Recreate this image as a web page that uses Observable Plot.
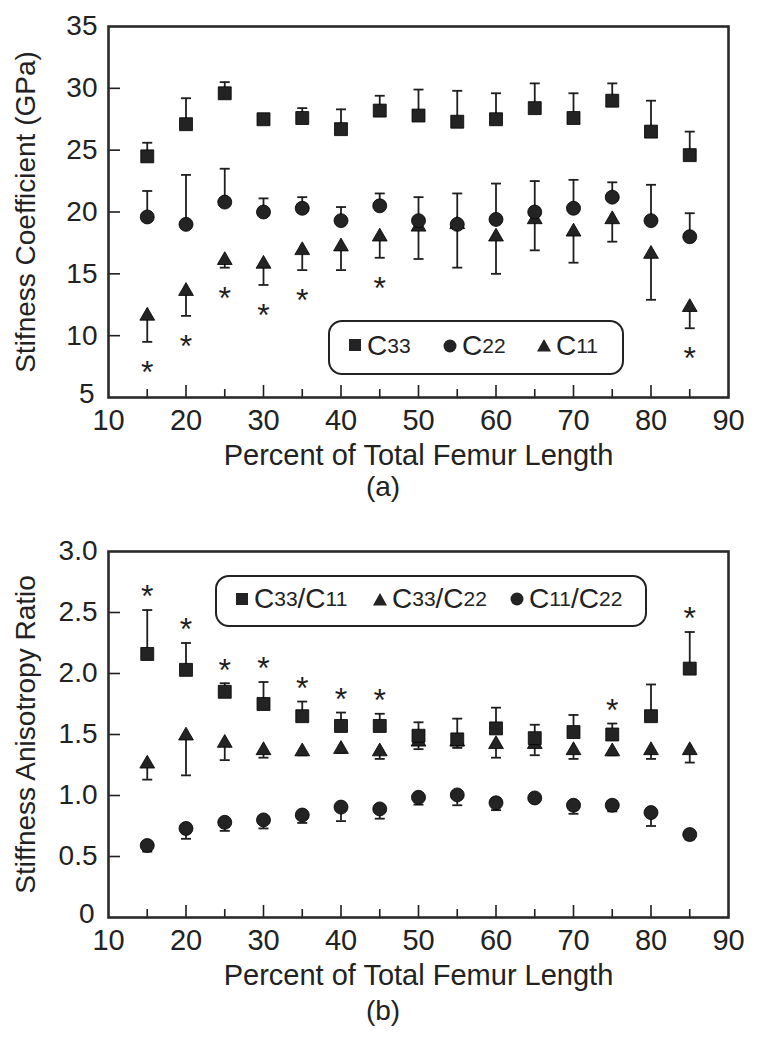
<!DOCTYPE html>
<html>
<head>
<meta charset="utf-8">
<script src="https://cdn.jsdelivr.net/npm/d3@7"></script>
<script src="https://cdn.jsdelivr.net/npm/@observablehq/plot@0.6"></script>
<style>
  body { margin: 0; background: #fff; font-family: "Liberation Sans", Arial, sans-serif; color: #222; }
  #wrap { position: relative; width: 758px; height: 1050px; overflow: hidden; }
  .chart { position: absolute; left: 0; }
  .panel { position: absolute; font-size: 28px; line-height: 28px; text-align: center; width: 60px; }
  .legend { position: absolute; box-sizing: border-box; border: 2px solid #222; border-radius: 14px; background: #fff; }
  .item { position: absolute; display: flex; align-items: center; font-size: 28px; line-height: 28px; white-space: nowrap; }
  .item svg { margin-right: 5px; }
  .item sub { font-size: 21px; vertical-align: -7px; line-height: 0; }
</style>
</head>
<body>
<div id="wrap"></div>
<script>
// ---------- data ----------
const pct = [15, 20, 25, 30, 35, 40, 45, 50, 55, 60, 65, 70, 75, 80, 85];

// (a) stiffness coefficients, GPa (mean and error-bar end)
const c33    = [24.5, 27.1, 29.6, 27.5, 27.6, 26.7, 28.2, 27.8, 27.3, 27.5, 28.4, 27.6, 29.0, 26.5, 24.6];
const c33Err = [25.6, 29.2, 30.5, 27.9, 28.4, 28.3, 29.4, 29.9, 29.8, 29.6, 30.4, 29.6, 30.4, 29.0, 26.5];
const c22    = [19.6, 19.0, 20.8, 20.0, 20.3, 19.3, 20.5, 19.3, 19.0, 19.4, 20.0, 20.3, 21.2, 19.3, 18.0];
const c22Err = [21.7, 23.0, 23.5, 21.1, 21.2, 20.4, 21.5, 21.2, 21.5, 22.3, 22.5, 22.6, 22.4, 22.2, 19.9];
const c11    = [11.6, 13.6, 16.1, 15.8, 16.9, 17.2, 18.0, 18.8, 19.0, 18.0, 19.4, 18.4, 19.4, 16.6, 12.3];
const c11Err = [9.5, 11.6, 15.5, 14.1, 15.3, 15.3, 16.3, 16.2, 15.5, 15.0, 16.9, 15.9, 17.6, 12.9, 10.6];
const sigA = [15, 20, 25, 30, 35, 45, 85];

// (b) anisotropy ratios (mean and error-bar end)
const r3311    = [2.16, 2.03, 1.85, 1.75, 1.65, 1.57, 1.57, 1.49, 1.46, 1.55, 1.47, 1.52, 1.50, 1.65, 2.04];
const r3311Err = [2.52, 2.25, 1.92, 1.93, 1.77, 1.68, 1.67, 1.60, 1.63, 1.72, 1.58, 1.66, 1.59, 1.91, 2.34];
const r3322    = [1.26, 1.49, 1.43, 1.37, 1.36, 1.38, 1.36, 1.44, 1.44, 1.42, 1.42, 1.37, 1.36, 1.37, 1.37];
const r3322Err = [1.13, 1.165, 1.29, 1.31, 1.33, 1.35, 1.30, 1.38, 1.39, 1.31, 1.33, 1.30, 1.33, 1.30, 1.27];
const r1122    = [0.59, 0.73, 0.78, 0.80, 0.84, 0.905, 0.89, 0.985, 1.005, 0.94, 0.98, 0.92, 0.92, 0.86, 0.68];
const r1122Err = [0.54, 0.645, 0.71, 0.73, 0.775, 0.79, 0.81, 0.925, 0.92, 0.88, 0.95, 0.85, 0.87, 0.75, 0.64];
const sigB = [15, 20, 25, 30, 35, 40, 45, 75, 85];

const xMajor = [10, 20, 30, 40, 50, 60, 70, 80, 90];
const xInnerMajor = [20, 30, 40, 50, 60, 70, 80];
const xMinor = [15, 25, 35, 45, 55, 65, 75, 85];
const yTicksA = [10, 15, 20, 25, 30, 35];
const yBottomA = [5];
const yInnerA = [10, 15, 20, 25, 30];
const yTicksB = [0.5, 1.0, 1.5, 2.0, 2.5, 3.0];
const yBottomB = [0];
const yInnerB = [0.5, 1.0, 1.5, 2.0, 2.5];

// ---------- helpers ----------
const INK = "#1e1e1e";
const W = 758, ML = 108, MR = 30;
const table = (v, e) => pct.map((p, i) => ({pct: p, val: v[i], err: e[i]}));
const capSymbol = {draw(ctx) { ctx.moveTo(-5, 0); ctx.lineTo(5, 0); }};

function series(rows, symbol, r) {
  return [
    Plot.ruleX(rows, {x: "pct", y1: "val", y2: "err", stroke: INK, strokeWidth: 1.8}),
    Plot.dot(rows, {x: "pct", y: "err", symbol: capSymbol, r: 5, stroke: INK, strokeWidth: 1.8, fill: "none"}),
    Plot.dot(rows, {x: "pct", y: "val", symbol, r, fill: "#232323", stroke: "#000", strokeWidth: 0.8})
  ];
}

function makeChart({height, marginTop, marginBottom, yDomain, yTicks, yBottom, yInner, yFormat, yLabel, groups, sigRows, sigDy}) {
  const innerH = height - marginTop - marginBottom;
  const innerW = W - ML - MR;
  return Plot.plot({
    width: W, height, marginTop, marginBottom, marginLeft: ML, marginRight: MR,
    style: {fontFamily: '"Liberation Sans", Arial, sans-serif', fontSize: "28px", color: "#222", background: "transparent"},
    x: {domain: [10, 90]},
    y: {domain: yDomain},
    marks: [
      // inward tick marks
      Plot.tickX(xInnerMajor, {x: d => d, insetTop: innerH - 12, stroke: INK, strokeWidth: 1.6}),
      Plot.tickX(xMinor, {x: d => d, insetTop: innerH - 8, stroke: INK, strokeWidth: 1.6}),
      Plot.tickY(yInner, {y: d => d, insetRight: innerW - 12, stroke: INK, strokeWidth: 1.6}),
      // tick labels + axis titles
      Plot.axisX({ticks: xMajor, tickSize: 0, tickPadding: 12, label: "Percent of Total Femur Length",
                  labelAnchor: "center", labelArrow: "none", labelOffset: 67, fontSize: 29, fill: "#222"}),
      Plot.axisY({ticks: yTicks, tickSize: 0, tickPadding: 11, tickFormat: yFormat, label: yLabel,
                  labelAnchor: "center", labelArrow: "none", labelOffset: 93, fill: "#222"}),
      Plot.axisY({ticks: yBottom, tickSize: 0, tickPadding: 14, tickFormat: yFormat, label: null, dy: -3, fill: "#222"}),
      ...groups.flat(),
      Plot.text(sigRows, {x: "pct", y: "err", text: () => "*", dy: sigDy, fontSize: 32, fill: INK}),
      Plot.frame({stroke: "#2a2a2a", strokeWidth: 2.6})
    ]
  });
}

const wrap = document.getElementById("wrap");

// ---------- chart (a) ----------
const rowsC33 = table(c33, c33Err), rowsC22 = table(c22, c22Err), rowsC11 = table(c11, c11Err);
const chartA = makeChart({
  height: 500, marginTop: 26, marginBottom: 103,
  yDomain: [5, 35], yTicks: yTicksA, yBottom: yBottomA, yInner: yInnerA, yFormat: d => String(d),
  yLabel: "Stifness Coefficient (GPa)",
  groups: [series(rowsC11, "triangle", 5.5), series(rowsC22, "circle", 7), series(rowsC33, "square", 7.3)],
  sigRows: rowsC11.filter(d => sigA.includes(d.pct)), sigDy: 31
});
chartA.classList.add("chart");
chartA.style.top = "0px";
wrap.appendChild(chartA);

// ---------- chart (b) ----------
const rowsR3311 = table(r3311, r3311Err), rowsR3322 = table(r3322, r3322Err), rowsR1122 = table(r1122, r1122Err);
const chartB = makeChart({
  height: 520, marginTop: 31, marginBottom: 123,
  yDomain: [0, 3], yTicks: yTicksB, yBottom: yBottomB, yInner: yInnerB,
  yFormat: d => d === 0 ? "0" : d.toFixed(1),
  yLabel: "Stiffness Anisotropy Ratio",
  groups: [series(rowsR1122, "circle", 7), series(rowsR3322, "triangle", 5.5), series(rowsR3311, "square", 7.3)],
  sigRows: rowsR3311.filter(d => sigB.includes(d.pct)), sigDy: -13
});
chartB.classList.add("chart");
chartB.style.top = "520px";
wrap.appendChild(chartB);

// ---------- panel letters ----------
function panel(text, top) {
  const d = document.createElement("div");
  d.className = "panel"; d.textContent = text;
  d.style.left = (383 - 30) + "px"; d.style.top = top + "px";
  wrap.appendChild(d);
}
panel("(a)", 473);
panel("(b)", 997);

// ---------- legends ----------
const sym = {
  square: '<svg width="13" height="13"><rect x="0" y="0" width="12" height="12" fill="#232323"/></svg>',
  circle: '<svg width="14" height="14"><circle cx="7" cy="7" r="6.5" fill="#232323"/></svg>',
  triangle: '<svg width="14" height="13"><path d="M7,0 L14,12.5 L0,12.5 Z" fill="#232323"/></svg>'
};
function legend(left, top, w, h, items) {
  const box = document.createElement("div");
  box.className = "legend";
  Object.assign(box.style, {left: left + "px", top: top + "px", width: w + "px", height: h + "px"});
  for (const it of items) {
    const s = document.createElement("div");
    s.className = "item";
    s.style.left = it.x + "px";
    s.style.top = (h / 2 - 18) + "px";
    s.innerHTML = sym[it.sym] + it.html;
    box.appendChild(s);
  }
  wrap.appendChild(box);
}
legend(328, 320, 296, 55, [
  {sym: "square", x: 19, html: "C<sub>33</sub>"},
  {sym: "circle", x: 113, html: "C<sub>22</sub>"},
  {sym: "triangle", x: 207, html: "C<sub>11</sub>"}
]);
legend(215, 575, 432, 52, [
  {sym: "square", x: 19, html: "C<sub>33</sub>/C<sub>11</sub>"},
  {sym: "triangle", x: 156, html: "C<sub>33</sub>/C<sub>22</sub>"},
  {sym: "circle", x: 293, html: "C<sub>11</sub>/C<sub>22</sub>"}
]);
</script>
</body>
</html>
